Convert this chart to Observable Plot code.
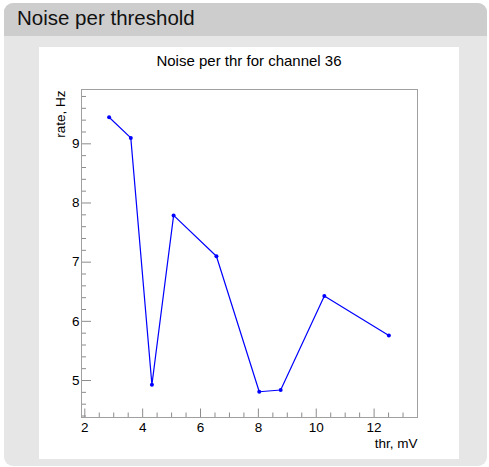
<!DOCTYPE html>
<html><head><meta charset="utf-8">
<script src="https://cdn.jsdelivr.net/npm/d3@7"></script>
<script src="https://cdn.jsdelivr.net/npm/@observablehq/plot@0.6"></script>
<style>
html,body{margin:0;padding:0;background:#fff;width:489px;height:467px;overflow:hidden;}
#panel{position:absolute;left:4px;top:3px;width:483px;height:463px;background:#e6e6e6;border-radius:9px;overflow:hidden;}
#head{position:absolute;left:0;top:0;width:483px;height:33px;background:#cdcdcd;}
#head span{position:absolute;left:13px;top:3px;font-family:"Liberation Sans",Arial,sans-serif;font-size:20.5px;color:#111;}
#canvas{position:absolute;left:39px;top:47px;width:420px;height:412px;background:#fff;}
#title{position:absolute;left:0;top:5px;width:420px;text-align:center;font-family:"Liberation Sans",Arial,sans-serif;font-size:15px;color:#000;}
#chart{position:absolute;left:0;top:30px;}
</style></head>
<body>
<div id="panel"><div id="head"><span>Noise per threshold</span></div></div>
<div id="canvas"><div id="title">Noise per thr for channel 36</div><div id="chart"></div></div>
<script>
const thr = [2.84, 3.59, 4.32, 5.07, 6.55, 8.03, 8.77, 10.28, 12.51];
const rate = [9.45, 9.10, 4.93, 7.79, 7.10, 4.81, 4.84, 6.43, 5.76];
const xMajor = [2, 4, 6, 8, 10, 12];
const xMinor = [2.5, 3, 3.5, 4.5, 5, 5.5, 6.5, 7, 7.5, 8.5, 9, 9.5, 10.5, 11, 11.5, 12.5, 13];
const yMajor = [5, 6, 7, 8, 9];
const yMinor = [4.4, 4.6, 4.8, 5.2, 5.4, 5.6, 5.8, 6.2, 6.4, 6.6, 6.8, 7.2, 7.4, 7.6, 7.8, 8.2, 8.4, 8.6, 8.8, 9.2, 9.4, 9.6, 9.8];
const xDomain = [1.886, 13.50];
const yDomain = [4.375, 9.918];

const data = thr.map((t, i) => ({thr: t, rate: rate[i]}));
const W = 420, H = 382, mL = 42, mR = 42, mT = 12, mB = 42;
const iw = W - mL - mR, ih = H - mT - mB;
const tickColor = "#8c8c8c";
const font = "'Liberation Sans', Arial, sans-serif";
const fs = 13.5;

const chart = Plot.plot({
  width: W, height: H,
  marginLeft: mL, marginRight: mR, marginTop: mT, marginBottom: mB,
  style: {fontFamily: font, fontSize: fs + "px", color: "#000", background: "transparent"},
  x: {domain: xDomain, axis: null},
  y: {domain: yDomain, axis: null},
  marks: [
    Plot.ruleX(xMajor, {x: d => d, insetTop: ih - 8.5, stroke: tickColor}),
    Plot.ruleX(xMinor, {x: d => d, insetTop: ih - 4.5, stroke: tickColor}),
    Plot.ruleY(yMajor, {y: d => d, insetRight: iw - 10, stroke: tickColor}),
    Plot.ruleY(yMinor, {y: d => d, insetRight: iw - 5, stroke: tickColor}),
    Plot.frame({stroke: "#a0a0a0"}),
    Plot.axisX(xMajor, {tickSize: 0, tickPadding: 5, fontSize: fs, tickFormat: d3.format("d"), label: null}),
    Plot.axisY(yMajor, {tickSize: 0, tickPadding: 2, fontSize: fs, tickFormat: d3.format("d"), label: null}),
    Plot.text(["thr, mV"], {frameAnchor: "bottom-right", dy: 30, lineAnchor: "bottom", textAnchor: "end", fontSize: fs}),
    Plot.text(["rate, Hz"], {frameAnchor: "top-left", dx: -21, dy: 1, rotate: -90, textAnchor: "end", lineAnchor: "middle", fontSize: fs}),
    Plot.line(data, {x: "thr", y: "rate", stroke: "#0000ff", strokeWidth: 1.2}),
    Plot.dot(data, {x: "thr", y: "rate", r: 2, fill: "#0000ff", stroke: null})
  ]
});
document.getElementById("chart").appendChild(chart);
</script>
</body></html>
